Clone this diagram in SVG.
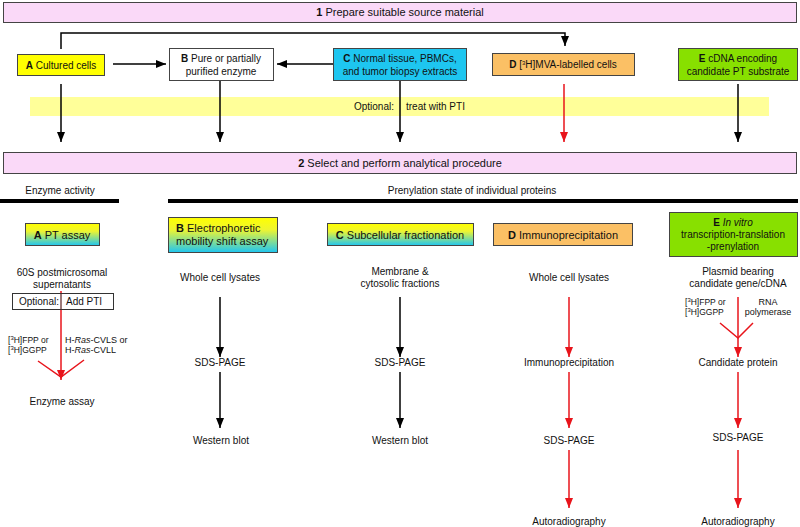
<svg xmlns="http://www.w3.org/2000/svg" width="800" height="527" viewBox="0 0 800 527">
<defs>
<style>
text{font-family:"Liberation Sans",Arial,sans-serif;font-size:10px;fill:#111;}
tspan{fill:#111;}
.t11{font-size:11px;}
.sm{font-size:8.5px;}
.sm9{font-size:9px;}
.sup{font-size:6px;}
.b{font-weight:bold;}
.mid{text-anchor:middle;}
.end{text-anchor:end;}
.box{stroke:#444;stroke-width:1;}
.banner{fill:#fad9f8;stroke:#444;stroke-width:1;}
.bk{stroke:#000;stroke-width:1.5;fill:none;}
.rd{stroke:#e8141b;stroke-width:1.5;fill:none;}
.bar{fill:#000;}
</style>
<marker id="ab" viewBox="0 0 10 8" refX="10" refY="4" markerWidth="10" markerHeight="8" markerUnits="userSpaceOnUse" orient="auto"><path d="M0,0 L10,4 L0,8 z" fill="#000"/></marker>
<marker id="ar" viewBox="0 0 10 8" refX="10" refY="4" markerWidth="10" markerHeight="8" markerUnits="userSpaceOnUse" orient="auto"><path d="M0,0 L10,4 L0,8 z" fill="#e8141b"/></marker>
<linearGradient id="gy" x1="0" y1="0" x2="0" y2="1">
<stop offset="0" stop-color="#ffff00"/>
<stop offset="0.35" stop-color="#eef530"/>
<stop offset="1" stop-color="#1ec6f2"/>
</linearGradient>
</defs>
<rect width="800" height="527" fill="#fff"/>

<g id="banner1"><rect class="banner" x="3.5" y="2.5" width="793" height="20"/>
<text class="t11 mid" x="400" y="16"><tspan class="b">1</tspan> Prepare suitable source material</text></g>

<g id="optional-band"><rect x="30" y="97" width="739" height="19" fill="#ffff99"/>
<text class="end" x="394" y="110">Optional:</text>
<text x="406" y="110">treat with PTI</text></g>

<g id="connectors">
<path class="bk" d="M61,49 V33 H565 V46" marker-end="url(#ab)"/>
<path class="bk" d="M113,64 H166" marker-end="url(#ab)"/>
<path class="bk" d="M333,64 H277" marker-end="url(#ab)"/>
<path class="bk" d="M61,84 V142" marker-end="url(#ab)"/>
<path class="bk" d="M220,81 V142" marker-end="url(#ab)"/>
<path class="bk" d="M400,81 V142" marker-end="url(#ab)"/>
<path class="rd" d="M564,84 V142" marker-end="url(#ar)"/>
<path class="bk" d="M738,84 V142" marker-end="url(#ab)"/>
<path class="rd" d="M61,291 V380" marker-end="url(#ar)"/>
<path class="rd" d="M38,361 L61,377 L84,360"/>
<path class="bk" d="M220,297 V357" marker-end="url(#ab)"/>
<path class="bk" d="M220,372 V428" marker-end="url(#ab)"/>
<path class="bk" d="M400,297 V357" marker-end="url(#ab)"/>
<path class="bk" d="M400,372 V428" marker-end="url(#ab)"/>
<path class="rd" d="M569,297 V357" marker-end="url(#ar)"/>
<path class="rd" d="M569,372 V428" marker-end="url(#ar)"/>
<path class="rd" d="M569,450 V508" marker-end="url(#ar)"/>
<path class="rd" d="M738,297 V357" marker-end="url(#ar)"/>
<path class="rd" d="M720,323 L738,338 L753,323"/>
<path class="rd" d="M738,372 V428" marker-end="url(#ar)"/>
<path class="rd" d="M738,450 V508" marker-end="url(#ar)"/>
</g>

<g id="src-A"><rect class="box" x="17.5" y="54.5" width="87" height="21" fill="#ffff00"/>
<text class="mid" x="61" y="68.5"><tspan class="b">A</tspan> Cultured cells</text></g>
<g id="src-B"><rect class="box" x="169.5" y="48.5" width="104" height="32" fill="#fff"/>
<text class="mid" x="221" y="61.5"><tspan class="b">B</tspan> Pure or partially</text>
<text class="mid" x="221" y="74.5">purified enzyme</text></g>
<g id="src-C"><rect class="box" x="333.5" y="48.5" width="133" height="32" fill="#1ec6f0"/>
<text class="mid" x="400" y="61.5"><tspan class="b">C</tspan> Normal tissue, PBMCs,</text>
<text class="mid" x="400" y="74.5">and tumor biopsy extracts</text></g>
<g id="src-D"><rect class="box" x="492.5" y="53.5" width="142" height="22" fill="#fbc065"/>
<text class="mid" x="563" y="68"><tspan class="b">D</tspan> [<tspan class="sup" dy="-3.5">3</tspan><tspan dy="3.5">H]MVA-labelled cells</tspan></text></g>
<g id="src-E"><rect class="box" x="678.5" y="48.5" width="119" height="32" fill="#88e000"/>
<text class="mid" x="738" y="61.5"><tspan class="b">E</tspan> cDNA encoding</text>
<text class="mid" x="738" y="74.5">candidate PT substrate</text></g>

<g id="banner2"><rect class="banner" x="3.5" y="152.5" width="793" height="21"/>
<text class="t11 mid" x="400" y="167"><tspan class="b">2</tspan> Select and perform analytical procedure</text></g>

<g id="categories">
<text class="mid" x="60" y="194">Enzyme activity</text>
<rect class="bar" x="0" y="199" width="119" height="4"/>
<text class="mid" x="472" y="194">Prenylation state of individual proteins</text>
<rect class="bar" x="168" y="199" width="630" height="4"/>
</g>

<g id="proc-A"><rect class="box" x="25.5" y="223.5" width="74" height="22" fill="url(#gy)"/>
<text class="t11 mid" x="62" y="238.5"><tspan class="b">A</tspan> PT assay</text></g>
<g id="proc-B"><rect class="box" x="168.5" y="217.5" width="109" height="35" fill="url(#gy)"/>
<text class="t11" x="176" y="232"><tspan class="b">B</tspan> Electrophoretic</text>
<text class="t11" x="176" y="245">mobility shift assay</text></g>
<g id="proc-C"><rect class="box" x="327.5" y="223.5" width="146" height="22" fill="url(#gy)"/>
<text class="t11 mid" x="400" y="238.5"><tspan class="b">C</tspan> Subcellular fractionation</text></g>
<g id="proc-D"><rect class="box" x="493.5" y="223.5" width="139" height="22" fill="#fbc065"/>
<text class="t11 mid" x="563" y="238.5"><tspan class="b">D</tspan> Immunoprecipitation</text></g>
<g id="proc-E"><rect class="box" x="669.5" y="212.5" width="128" height="44" fill="#88e000"/>
<text class="mid" x="733" y="225.5"><tspan class="b">E</tspan> <tspan font-style="italic">In vitro</tspan></text>
<text class="mid" x="733" y="237.5">transcription-translation</text>
<text class="mid" x="733" y="249.5">-prenylation</text></g>

<g id="col-A">
<text class="mid" x="62" y="276">60S postmicrosomal</text>
<text class="mid" x="62" y="288">supernatants</text>
<rect x="12.5" y="293.5" width="101" height="16" fill="#fff" stroke="#333"/>
<line x1="61" y1="293.5" x2="61" y2="309.5" stroke="#5a2020" stroke-width="1.2"/>
<text class="end" x="59" y="305">Optional:</text>
<text x="66" y="305">Add PTI</text>
<text class="sm" x="8" y="343">[<tspan class="sup" dy="-3">3</tspan><tspan dy="3">H]FPP or</tspan></text>
<text class="sm" x="8" y="353">[<tspan class="sup" dy="-3">3</tspan><tspan dy="3">H]GGPP</tspan></text>
<text class="sm9" x="65" y="343">H-<tspan font-style="italic">Ras</tspan>-CVLS or</text>
<text class="sm9" x="65" y="353">H-<tspan font-style="italic">Ras</tspan>-CVLL</text>
<text class="mid" x="62" y="405">Enzyme assay</text>
</g>

<g id="col-B">
<text class="mid" x="220" y="281">Whole cell lysates</text>
<text class="mid" x="220" y="366">SDS-PAGE</text>
<text class="mid" x="221" y="444">Western blot</text>
</g>

<g id="col-C">
<text class="mid" x="400" y="275">Membrane &amp;</text>
<text class="mid" x="400" y="287">cytosolic fractions</text>
<text class="mid" x="400" y="366">SDS-PAGE</text>
<text class="mid" x="400" y="444">Western blot</text>
</g>

<g id="col-D">
<text class="mid" x="569" y="281">Whole cell lysates</text>
<text class="mid" x="569" y="366">Immunoprecipitation</text>
<text class="mid" x="569" y="444">SDS-PAGE</text>
<text class="mid" x="569" y="525">Autoradiography</text>
</g>

<g id="col-E">
<text class="mid" x="738" y="275">Plasmid bearing</text>
<text class="mid" x="738" y="287">candidate gene/cDNA</text>
<text class="sm" x="685" y="305">[<tspan class="sup" dy="-3">3</tspan><tspan dy="3">H]FPP or</tspan></text>
<text class="sm" x="685" y="315">[<tspan class="sup" dy="-3">3</tspan><tspan dy="3">H]GGPP</tspan></text>
<text class="sm9 mid" x="768" y="305">RNA</text>
<text class="sm9 mid" x="768" y="315">polymerase</text>
<text class="mid" x="738" y="366">Candidate protein</text>
<text class="mid" x="738" y="441">SDS-PAGE</text>
<text class="mid" x="738" y="525">Autoradiography</text>
</g>
</svg>
